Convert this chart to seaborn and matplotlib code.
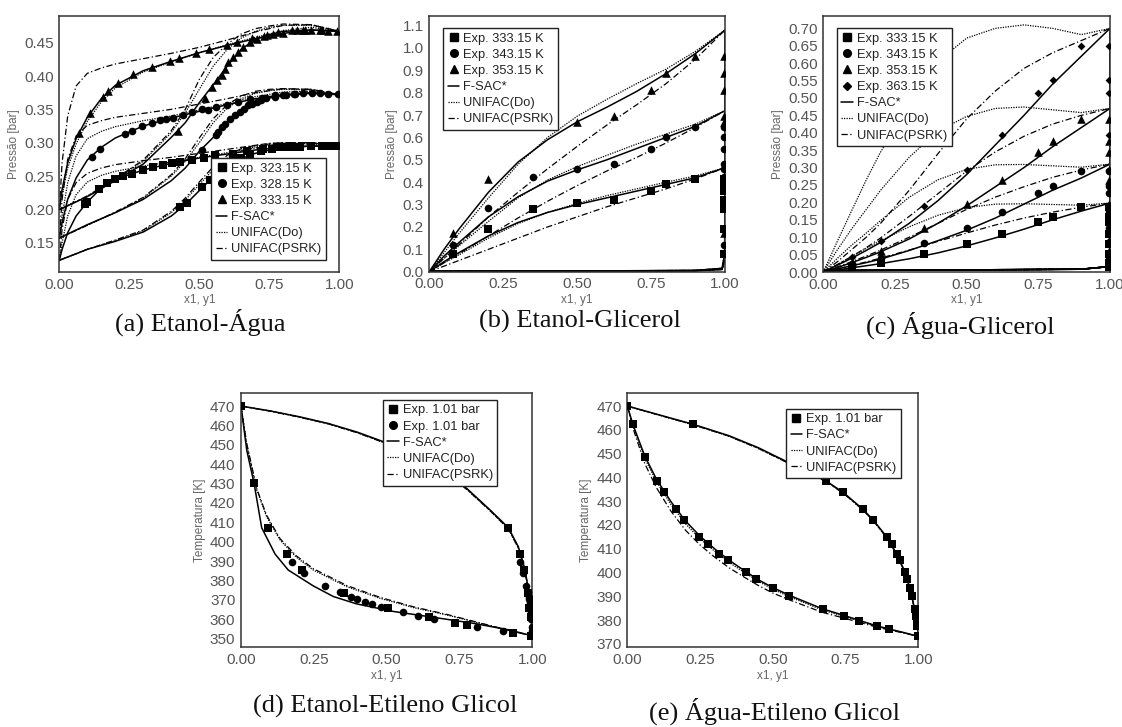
import matplotlib
matplotlib.use('Agg')
import matplotlib.pyplot as plt
from matplotlib.lines import Line2D
from matplotlib.ticker import FormatStrFormatter
import seaborn as sns

# ---------------- (a) Etanol-Agua : P [bar] vs x1, y1 ----------------
A_GRID_BUB = [0, 0.01, 0.03, 0.06, 0.1, 0.15, 0.2, 0.3, 0.4, 0.5, 0.6, 0.7, 0.8, 0.9, 1.0]
A_GRID_DEW = [0, 0.1, 0.2, 0.3, 0.4, 0.45, 0.5, 0.55, 0.6, 0.65, 0.7, 0.75, 0.8, 0.9, 1.0]

a_fsac_bub_323 = [0.1235, 0.14, 0.165, 0.19, 0.211, 0.232, 0.245, 0.259, 0.269, 0.277, 0.283, 0.289, 0.293, 0.295, 0.2945]
a_do_bub_323 = [0.1235, 0.15, 0.19, 0.222, 0.241, 0.251, 0.257, 0.265, 0.271, 0.278, 0.285, 0.292, 0.297, 0.298, 0.2945]
a_psrk_bub_323 = [0.1235, 0.17, 0.215, 0.24, 0.254, 0.262, 0.267, 0.273, 0.278, 0.284, 0.29, 0.296, 0.3, 0.3, 0.2945]
a_fsac_dew_323 = [0.1235, 0.14, 0.152, 0.166, 0.19, 0.207, 0.228, 0.249, 0.265, 0.276, 0.284, 0.289, 0.292, 0.295, 0.2945]
a_do_dew_323 = [0.1235, 0.14, 0.153, 0.168, 0.195, 0.214, 0.237, 0.26, 0.277, 0.288, 0.294, 0.297, 0.299, 0.299, 0.2945]
a_psrk_dew_323 = [0.1235, 0.14, 0.154, 0.169, 0.197, 0.217, 0.241, 0.264, 0.281, 0.291, 0.296, 0.299, 0.3, 0.3, 0.2945]

a_fsac_bub_328 = [0.157, 0.18, 0.215, 0.247, 0.274, 0.293, 0.307, 0.325, 0.337, 0.347, 0.357, 0.366, 0.372, 0.375, 0.372]
a_do_bub_328 = [0.157, 0.19, 0.24, 0.28, 0.306, 0.317, 0.324, 0.333, 0.34, 0.349, 0.359, 0.369, 0.376, 0.377, 0.372]
a_psrk_bub_328 = [0.157, 0.215, 0.275, 0.31, 0.326, 0.333, 0.338, 0.344, 0.35, 0.358, 0.366, 0.375, 0.381, 0.38, 0.372]
a_fsac_dew_328 = [0.157, 0.177, 0.195, 0.215, 0.243, 0.262, 0.287, 0.308, 0.332, 0.348, 0.36, 0.367, 0.371, 0.374, 0.372]
a_do_dew_328 = [0.157, 0.176, 0.195, 0.217, 0.25, 0.272, 0.3, 0.33, 0.352, 0.366, 0.374, 0.378, 0.38, 0.379, 0.372]
a_psrk_dew_328 = [0.157, 0.176, 0.196, 0.218, 0.252, 0.276, 0.307, 0.336, 0.357, 0.37, 0.377, 0.38, 0.381, 0.38, 0.372]

a_fsac_bub_333 = [0.1995, 0.23, 0.27, 0.306, 0.338, 0.366, 0.386, 0.408, 0.422, 0.435, 0.446, 0.456, 0.464, 0.469, 0.467]
a_do_bub_333 = [0.1995, 0.222, 0.262, 0.298, 0.332, 0.361, 0.382, 0.406, 0.421, 0.435, 0.447, 0.458, 0.468, 0.473, 0.467]
a_psrk_bub_333 = [0.1995, 0.27, 0.34, 0.385, 0.404, 0.412, 0.418, 0.426, 0.434, 0.443, 0.454, 0.466, 0.476, 0.477, 0.467]
a_fsac_dew_333 = [0.1995, 0.219, 0.243, 0.268, 0.308, 0.33, 0.36, 0.387, 0.415, 0.44, 0.455, 0.462, 0.467, 0.469, 0.467]
a_do_dew_333 = [0.1995, 0.22, 0.245, 0.272, 0.315, 0.345, 0.38, 0.415, 0.44, 0.457, 0.467, 0.473, 0.476, 0.476, 0.467]
a_psrk_dew_333 = [0.1995, 0.22, 0.246, 0.274, 0.318, 0.35, 0.395, 0.428, 0.448, 0.463, 0.471, 0.475, 0.478, 0.477, 0.467]

a_exp_bub_323_x = [0.092, 0.1, 0.142, 0.169, 0.199, 0.229, 0.258, 0.3, 0.336, 0.371, 0.401, 0.431, 0.473,
                   0.517, 0.556, 0.621, 0.669, 0.729, 0.776, 0.82, 0.86, 0.9, 0.94, 0.97, 1.0]
a_exp_bub_323_p = [0.2085, 0.211, 0.231, 0.2395, 0.246, 0.2495, 0.2535, 0.2585, 0.2635, 0.267, 0.2695, 0.271, 0.2745,
                   0.2775, 0.281, 0.2835, 0.287, 0.291, 0.2935, 0.2935, 0.294, 0.295, 0.295, 0.295, 0.2945]
a_exp_dew_323_x = [0.431, 0.455, 0.508, 0.538, 0.568, 0.592, 0.62, 0.65, 0.68, 0.72, 0.76, 0.8, 0.85, 0.9, 0.95]
a_exp_dew_323_p = [0.2035, 0.2095, 0.2335, 0.2435, 0.2535, 0.2635, 0.27, 0.277, 0.283, 0.288, 0.291, 0.293, 0.294, 0.295, 0.295]
a_exp_bub_328_x = [0.116, 0.145, 0.235, 0.259, 0.294, 0.33, 0.36, 0.38, 0.407, 0.443, 0.473, 0.508, 0.532,
                   0.56, 0.6, 0.64, 0.68, 0.723, 0.77, 0.81, 0.842, 0.87, 0.901, 0.93, 0.961, 0.996]
a_exp_bub_328_p = [0.2785, 0.291, 0.3135, 0.3175, 0.325, 0.33, 0.3335, 0.335, 0.3375, 0.342, 0.346, 0.35, 0.3495,
                   0.353, 0.357, 0.361, 0.365, 0.3675, 0.371, 0.372, 0.3735, 0.374, 0.374, 0.374, 0.3735, 0.3725]
a_exp_dew_328_x = [0.508, 0.56, 0.568, 0.58, 0.592, 0.61, 0.627, 0.645, 0.66, 0.675, 0.69, 0.705, 0.72, 0.74, 0.77, 0.8, 0.84]
a_exp_dew_328_p = [0.289, 0.311, 0.316, 0.323, 0.3285, 0.336, 0.341, 0.346, 0.351, 0.356, 0.358, 0.361, 0.364, 0.367, 0.369, 0.371, 0.373]
a_exp_bub_333_x = [0.07, 0.11, 0.155, 0.175, 0.211, 0.264, 0.33, 0.395, 0.427, 0.49, 0.536, 0.6, 0.636, 0.69,
                   0.73, 0.764, 0.8, 0.848, 0.87, 0.9, 0.93, 0.96]
a_exp_bub_333_p = [0.315, 0.3445, 0.3685, 0.3775, 0.39, 0.4025, 0.4135, 0.422, 0.4275, 0.435, 0.441, 0.447, 0.451, 0.457,
                   0.46, 0.4625, 0.465, 0.4685, 0.469, 0.4695, 0.469, 0.468]
a_exp_dew_333_x = [0.425, 0.52, 0.544, 0.562, 0.58, 0.592, 0.604, 0.621, 0.639, 0.657, 0.681, 0.705, 0.741, 0.782,
                   0.83, 0.878, 0.937, 0.991]
a_exp_dew_333_p = [0.317, 0.367, 0.3835, 0.3935, 0.401, 0.411, 0.421, 0.4285, 0.436, 0.4435, 0.451, 0.456, 0.461, 0.466,
                   0.4685, 0.4695, 0.4685, 0.4675]
A_LABELS = ['Exp. 323.15 K', 'Exp. 328.15 K', 'Exp. 333.15 K']

# ---------------- (b) Etanol-Glicerol ----------------
B_GRID = [0, 0.05, 0.1, 0.2, 0.3, 0.4, 0.5, 0.6, 0.7, 0.8, 0.9, 1.0]
b_fsac_333 = [0, 0.045, 0.085, 0.16, 0.22, 0.265, 0.3, 0.33, 0.36, 0.39, 0.42, 0.465]
b_do_333 = [0, 0.04, 0.075, 0.15, 0.215, 0.265, 0.305, 0.34, 0.37, 0.4, 0.428, 0.465]
b_psrk_333 = [0, 0.025, 0.05, 0.1, 0.15, 0.2, 0.245, 0.29, 0.33, 0.37, 0.415, 0.465]
b_fsac_343 = [0, 0.07, 0.13, 0.245, 0.335, 0.405, 0.455, 0.5, 0.55, 0.6, 0.65, 0.72]
b_do_343 = [0, 0.06, 0.115, 0.225, 0.33, 0.41, 0.47, 0.52, 0.57, 0.615, 0.66, 0.72]
b_psrk_343 = [0, 0.04, 0.08, 0.16, 0.24, 0.315, 0.385, 0.45, 0.51, 0.575, 0.645, 0.72]
b_fsac_353 = [0, 0.1, 0.19, 0.355, 0.49, 0.59, 0.67, 0.735, 0.805, 0.885, 0.975, 1.08]
b_do_353 = [0, 0.085, 0.17, 0.33, 0.48, 0.6, 0.695, 0.77, 0.84, 0.905, 0.985, 1.08]
b_psrk_353 = [0, 0.06, 0.12, 0.245, 0.355, 0.46, 0.56, 0.655, 0.745, 0.84, 0.95, 1.08]
B_DEW_X = [0, 0.5, 0.9, 0.99, 0.999, 1.0]
b_dew_333 = [0.002, 0.003, 0.004, 0.01, 0.05, 0.465]
b_dew_343 = [0.002, 0.003, 0.005, 0.012, 0.06, 0.72]
b_dew_353 = [0.002, 0.003, 0.006, 0.015, 0.08, 1.08]
B_EXP_X = [0.08, 0.2, 0.35, 0.5, 0.625, 0.75, 0.8, 0.9]
B_EXP_DEW_X = [0.998, 0.998, 0.998, 0.998, 0.998, 0.998, 0.998, 0.998]
b_exp_333 = [0.08, 0.19, 0.28, 0.305, 0.32, 0.36, 0.39, 0.415]
b_exp_343 = [0.12, 0.285, 0.425, 0.46, 0.48, 0.55, 0.6, 0.645]
b_exp_353 = [0.175, 0.415, None, 0.67, 0.695, 0.81, 0.89, 0.965]
B_LABELS = ['Exp. 333.15 K', 'Exp. 343.15 K', 'Exp. 353.15 K']

# ---------------- (c) Agua-Glicerol ----------------
C_GRID = [0, 0.05, 0.1, 0.15, 0.2, 0.3, 0.4, 0.5, 0.6, 0.7, 0.8, 0.9, 1.0]
c_fsac_333 = [0, 0.006, 0.012, 0.018, 0.024, 0.038, 0.055, 0.075, 0.098, 0.123, 0.15, 0.175, 0.198]
c_fsac_343 = [0, 0.009, 0.018, 0.027, 0.037, 0.062, 0.09, 0.12, 0.155, 0.195, 0.235, 0.27, 0.31]
c_fsac_353 = [0, 0.013, 0.027, 0.042, 0.058, 0.095, 0.14, 0.19, 0.245, 0.3, 0.36, 0.415, 0.47]
c_fsac_363 = [0, 0.02, 0.04, 0.062, 0.085, 0.14, 0.205, 0.28, 0.365, 0.45, 0.54, 0.62, 0.70]
c_do_333 = [0, 0.022, 0.045, 0.068, 0.09, 0.13, 0.163, 0.185, 0.195, 0.196, 0.194, 0.192, 0.198]
c_do_343 = [0, 0.04, 0.078, 0.112, 0.148, 0.215, 0.265, 0.295, 0.308, 0.309, 0.305, 0.301, 0.31]
c_do_353 = [0, 0.065, 0.125, 0.18, 0.235, 0.33, 0.405, 0.447, 0.47, 0.474, 0.466, 0.458, 0.47]
c_do_363 = [0, 0.09, 0.178, 0.265, 0.345, 0.48, 0.605, 0.672, 0.70, 0.71, 0.70, 0.682, 0.70]
c_psrk_333 = [0, 0.009, 0.019, 0.029, 0.04, 0.063, 0.088, 0.112, 0.135, 0.155, 0.172, 0.186, 0.198]
c_psrk_343 = [0, 0.015, 0.03, 0.046, 0.063, 0.1, 0.14, 0.18, 0.215, 0.245, 0.272, 0.293, 0.31]
c_psrk_353 = [0, 0.022, 0.045, 0.07, 0.098, 0.16, 0.225, 0.29, 0.345, 0.39, 0.425, 0.45, 0.47]
c_psrk_363 = [0, 0.03, 0.065, 0.1, 0.14, 0.235, 0.34, 0.44, 0.52, 0.585, 0.63, 0.665, 0.70]
C_DEW_X = [0, 0.5, 0.9, 0.99, 0.999, 1.0]
c_dew_333 = [0.004, 0.006, 0.008, 0.015, 0.05, 0.198]
c_dew_343 = [0.004, 0.006, 0.008, 0.015, 0.05, 0.31]
c_dew_353 = [0.004, 0.006, 0.008, 0.015, 0.05, 0.47]
c_dew_363 = [0.004, 0.006, 0.008, 0.015, 0.05, 0.70]
C_EXP_X = [0.1, 0.2, 0.35, 0.5, 0.625, 0.75, 0.8, 0.9]
C_EXP_DEW_X = [0.998, 0.998, 0.998, 0.998, 0.998, 0.998, 0.998, 0.998]
c_exp_333 = [0.013, 0.027, 0.052, 0.08, 0.11, 0.145, 0.158, 0.188]
c_exp_343 = [0.022, 0.04, 0.082, 0.127, 0.173, 0.228, 0.248, 0.29]
c_exp_353 = [0.03, 0.06, 0.127, 0.195, 0.265, 0.345, 0.375, 0.44]
c_exp_363 = [0.042, 0.09, 0.19, 0.292, 0.393, 0.513, 0.552, 0.648]
C_LABELS = ['Exp. 333.15 K', 'Exp. 343.15 K', 'Exp. 353.15 K', 'Exp. 363.15 K']

# ---------------- (d) Etanol-Etileno Glicol : T [K] ----------------
d_fsac_bub_x = [0, 0.02, 0.045, 0.071, 0.117, 0.162, 0.248, 0.317, 0.397, 0.523, 0.66, 0.797, 0.923, 1.0]
d_fsac_bub_t = [470, 447, 430, 407.2, 393.6, 385.4, 377.2, 371.7, 367.9, 364, 361, 357.9, 354.4, 351.4]
d_do_bub_x = [0, 0.019, 0.054, 0.088, 0.134, 0.19, 0.248, 0.363, 0.477, 0.592, 0.706, 0.82, 0.935, 1.0]
d_do_bub_t = [470, 450.7, 426.7, 412.9, 400.9, 392, 385.4, 376.8, 370.8, 366, 362.2, 357.9, 353.6, 351.4]
d_psrk_bub_t = [470, 451.2, 427.4, 413.6, 401.6, 392.7, 386.1, 377.4, 371.3, 366.4, 362.5, 358.1, 353.7, 351.4]
d_fsac_dew_x = [0, 0.1, 0.2, 0.3, 0.4, 0.5, 0.6, 0.7, 0.775, 0.855, 0.918, 0.952, 0.969, 0.981, 0.99, 0.995, 1.0]
d_fsac_dew_t = [470, 467.5, 464.5, 461, 456.5, 451, 444.5, 436.5, 427.5, 416.4, 407.2, 397.4, 388.9, 380.3, 371.7, 362, 351.4]
d_do_dew_t = [470, 467.4, 464.3, 460.8, 456.2, 450.6, 444, 436, 427, 416, 406.6, 396.8, 388.3, 379.8, 371.3, 361.7, 351.4]
d_exp1_bub_x = [0.0, 0.045, 0.094, 0.157, 0.208, 0.355, 0.506, 0.646, 0.735, 0.777, 0.935, 0.994]
d_exp1_bub_t = [470, 430.1, 407.2, 393.6, 385.4, 373.4, 366, 361, 358, 357.2, 353.1, 351.4]
d_exp1_dew_x = [0.918, 0.958, 0.971, 0.986, 0.99, 0.994]
d_exp1_dew_t = [407.2, 393.6, 385.4, 373.4, 366, 361]
d_exp2_bub_x = [0.176, 0.217, 0.29, 0.34, 0.376, 0.397, 0.427, 0.451, 0.481, 0.557, 0.609, 0.664, 0.809, 0.898]
d_exp2_bub_t = [389.7, 384, 377.2, 373.8, 371.7, 370.3, 369.1, 367.9, 366.5, 363.6, 361.9, 360, 356.2, 353.8]
d_exp2_dew_x = [0.958, 0.969, 0.98, 0.985, 0.988, 0.99, 0.992, 0.993, 0.994, 0.995, 0.996, 0.997, 0.998, 0.999]
d_exp2_dew_t = [389.7, 384, 377.2, 373.8, 371.7, 370.3, 369.1, 367.9, 366.5, 363.6, 361.9, 360, 356.2, 353.8]
D_LABELS = ['Exp. 1.01 bar', 'Exp. 1.01 bar']

# ---------------- (e) Agua-Etileno Glicol : T [K] ----------------
E_BUB_X = [0, 0.02, 0.06, 0.1, 0.15, 0.2, 0.25, 0.3, 0.35, 0.4, 0.45, 0.5, 0.56, 0.67, 0.75, 0.8, 0.86, 0.9, 0.95, 1.0]
e_fsac_bub = [470, 462, 449, 439.3, 429.8, 421.7, 415.3, 410, 405.2, 401, 397, 393.7, 390.3, 384.8, 381.8, 379.8, 377.5, 376.3, 374.8, 373.2]
e_do_bub = [470, 461.5, 448, 438.3, 428.6, 420.5, 414.2, 409, 404.3, 400.2, 396.4, 393, 389.7, 384.3, 381.4, 379.5, 377.3, 376.1, 374.7, 373.2]
e_psrk_bub = [470, 460.5, 445.8, 435.7, 425.8, 417.8, 411.6, 406.5, 402, 398.2, 394.6, 391.4, 388.4, 383.3, 380.7, 379, 377, 375.9, 374.6, 373.2]
E_DEW_X = [0, 0.1, 0.227, 0.35, 0.45, 0.55, 0.65, 0.682, 0.742, 0.809, 0.845, 0.891, 0.926, 0.954, 0.971, 0.985, 0.994, 1.0]
e_fsac_dew = [470, 466.6, 462.3, 457.5, 452.5, 446.5, 440.5, 438.6, 433.7, 426.7, 422.1, 415.1, 407.8, 400.3, 393.6, 386, 380, 373.2]
e_do_dew = [470, 466.5, 462.1, 457.3, 452.2, 446.2, 440.2, 438.3, 433.4, 426.4, 421.8, 414.8, 407.5, 400, 393.3, 385.8, 379.8, 373.2]
e_exp_bub_x = [0, 0.018, 0.062, 0.103, 0.127, 0.166, 0.196, 0.247, 0.278, 0.316, 0.345, 0.408, 0.443, 0.5,
               0.557, 0.674, 0.745, 0.796, 0.859, 0.899]
e_exp_bub_t = [470, 462.3, 448.7, 438.6, 433.7, 426.7, 422.1, 415.1, 412, 407.8, 405.3, 400.3, 397.3, 393.6,
               390.3, 384.7, 381.8, 379.7, 377.6, 376.3]
e_exp_dew_x = [0.227, 0.682, 0.742, 0.809, 0.845, 0.891, 0.908, 0.926, 0.937, 0.954, 0.962, 0.971, 0.979,
               0.989, 0.992, 0.994, 0.996, 0.998]
e_exp_dew_t = [462.3, 438.6, 433.7, 426.7, 422.1, 415.1, 412, 407.8, 405.3, 400.3, 397.3, 393.6, 390.3,
               384.7, 381.8, 379.7, 377.6, 373.5]
E_LABELS = ['Exp. 1.01 bar']

X_TICKS = [0.0, 0.25, 0.5, 0.75, 1.0]
A_YTICKS = [0.15, 0.20, 0.25, 0.30, 0.35, 0.40, 0.45]
B_YTICKS = [0.0, 0.1, 0.2, 0.3, 0.4, 0.5, 0.6, 0.7, 0.8, 0.9, 1.0, 1.1]
C_YTICKS = [0.0, 0.05, 0.1, 0.15, 0.2, 0.25, 0.3, 0.35, 0.4, 0.45, 0.5, 0.55, 0.6, 0.65, 0.7]
D_YTICKS = [350, 360, 370, 380, 390, 400, 410, 420, 430, 440, 450, 460, 470]
E_YTICKS = [370, 380, 390, 400, 410, 420, 430, 440, 450, 460, 470]

CAPTIONS = ['(a) Etanol-Água', '(b) Etanol-Glicerol', '(c) Água-Glicerol',
            '(d) Etanol-Etileno Glicol', '(e) Água-Etileno Glicol']

sns.set_style('white')
plt.rcParams['font.family'] = ['Liberation Sans', 'DejaVu Sans']

W, H = 1122, 727
fig = plt.figure(figsize=(W / 100, H / 100), dpi=100)

STYLES = {
    'fsac': dict(linestyle='-', linewidth=1.1),
    'do': dict(linestyle=(0, (1, 1)), linewidth=0.9),
    'psrk': dict(linestyle=(0, (5, 2, 1, 2)), linewidth=0.9),
}
MARKERS = {'s': 30, 'o': 30, '^': 38, 'D': 16}
GREY = '#555555'


def add_axes(left, top, right, bottom):
    ax = fig.add_axes([left / W, 1 - bottom / H, (right - left) / W, (bottom - top) / H])
    for sp in ax.spines.values():
        sp.set_color('#333333')
        sp.set_linewidth(1.1)
    ax.tick_params(direction='out', length=2.5, width=0.8, color=GREY, labelcolor=GREY,
                   labelsize=11, pad=1.5)
    return ax


def curve(ax, x, y, kind):
    sns.lineplot(x=x, y=y, ax=ax, color='black', sort=False, estimator=None, **STYLES[kind])


def points(ax, x, y, marker):
    pairs = [(a, b) for a, b in zip(x, y) if b is not None]
    sns.scatterplot(x=[p[0] for p in pairs], y=[p[1] for p in pairs], ax=ax, marker=marker,
                    s=MARKERS[marker], color='black', edgecolor='black', linewidth=0, zorder=5)


def finish(ax, ylim, yticks, yfmt, ylabel, labels, markers, loc, anchor):
    ax.set_xlim(0, 1)
    ax.set_ylim(*ylim)
    ax.set_xticks(X_TICKS)
    ax.set_yticks(yticks)
    ax.xaxis.set_major_formatter(FormatStrFormatter('%.2f'))
    ax.yaxis.set_major_formatter(FormatStrFormatter(yfmt))
    ax.set_xlabel('x1, y1', fontsize=8.5, color='#666666', labelpad=2)
    ax.set_ylabel(ylabel, fontsize=8.5, color='#666666', labelpad=3)
    handles = [Line2D([], [], color='black', marker=m, linestyle='none',
                      markersize=(4.5 if m == 'D' else 5.5)) for m in markers]
    handles += [Line2D([], [], color='black', **STYLES[k]) for k in ('fsac', 'do', 'psrk')]
    leg = ax.legend(handles, labels + ['F-SAC*', 'UNIFAC(Do)', 'UNIFAC(PSRK)'], loc=loc,
                    bbox_to_anchor=anchor, fontsize=9.3, frameon=True, fancybox=False,
                    edgecolor='#222222', handlelength=0.9, handletextpad=0.3, borderpad=0.35,
                    labelspacing=0.32, borderaxespad=0)
    leg.get_frame().set_linewidth(1.0)
    leg.get_frame().set_alpha(1)
    leg.set_zorder(10)
    for t in leg.get_texts():
        t.set_color('#222222')


# ---- (a) ----
ax = add_axes(59.3, 16, 339.3, 272)
for kind, curves in (('fsac', (a_fsac_bub_323, a_fsac_bub_328, a_fsac_bub_333)),
                     ('do', (a_do_bub_323, a_do_bub_328, a_do_bub_333)),
                     ('psrk', (a_psrk_bub_323, a_psrk_bub_328, a_psrk_bub_333))):
    for c in curves:
        curve(ax, A_GRID_BUB, c, kind)
for kind, curves in (('fsac', (a_fsac_dew_323, a_fsac_dew_328, a_fsac_dew_333)),
                     ('do', (a_do_dew_323, a_do_dew_328, a_do_dew_333)),
                     ('psrk', (a_psrk_dew_323, a_psrk_dew_328, a_psrk_dew_333))):
    for c in curves:
        curve(ax, A_GRID_DEW, c, kind)
points(ax, a_exp_bub_323_x, a_exp_bub_323_p, 's')
points(ax, a_exp_dew_323_x, a_exp_dew_323_p, 's')
points(ax, a_exp_bub_328_x, a_exp_bub_328_p, 'o')
points(ax, a_exp_dew_328_x, a_exp_dew_328_p, 'o')
points(ax, a_exp_bub_333_x, a_exp_bub_333_p, '^')
points(ax, a_exp_dew_333_x, a_exp_dew_333_p, '^')
finish(ax, (0.106, 0.49), A_YTICKS, '%.2f', 'Pressão [bar]', A_LABELS, ['s', 'o', '^'],
       'lower right', (0.953, 0.047))

# ---- (b) ----
ax = add_axes(429.3, 16, 725, 271.7)
for kind, curves in (('fsac', (b_fsac_333, b_fsac_343, b_fsac_353)),
                     ('do', (b_do_333, b_do_343, b_do_353)),
                     ('psrk', (b_psrk_333, b_psrk_343, b_psrk_353))):
    for c in curves:
        curve(ax, B_GRID, c, kind)
for d in (b_dew_333, b_dew_343, b_dew_353):
    for kind in ('fsac', 'do', 'psrk'):
        curve(ax, B_DEW_X, d, kind)
for vals, m in ((b_exp_333, 's'), (b_exp_343, 'o'), (b_exp_353, '^')):
    points(ax, B_EXP_X, vals, m)
    points(ax, B_EXP_DEW_X, vals, m)
finish(ax, (0, 1.143), B_YTICKS, '%.1f', 'Pressão [bar]', B_LABELS, ['s', 'o', '^'],
       'upper left', (0.047, 0.953))

# ---- (c) ----
ax = add_axes(823.3, 16, 1110, 272)
for kind, curves in (('fsac', (c_fsac_333, c_fsac_343, c_fsac_353, c_fsac_363)),
                     ('do', (c_do_333, c_do_343, c_do_353, c_do_363)),
                     ('psrk', (c_psrk_333, c_psrk_343, c_psrk_353, c_psrk_363))):
    for c in curves:
        curve(ax, C_GRID, c, kind)
for d in (c_dew_333, c_dew_343, c_dew_353, c_dew_363):
    for kind in ('fsac', 'do', 'psrk'):
        curve(ax, C_DEW_X, d, kind)
for vals, m in ((c_exp_333, 's'), (c_exp_343, 'o'), (c_exp_353, '^'), (c_exp_363, 'D')):
    points(ax, C_EXP_X, vals, m)
    points(ax, C_EXP_DEW_X, vals, m)
finish(ax, (0, 0.7355), C_YTICKS, '%.2f', 'Pressão [bar]', C_LABELS, ['s', 'o', '^', 'D'],
       'upper left', (0.047, 0.953))

# ---- (d) ----
ax = add_axes(241, 392.7, 532.3, 647.3)
curve(ax, d_fsac_bub_x, d_fsac_bub_t, 'fsac')
curve(ax, d_do_bub_x, d_do_bub_t, 'do')
curve(ax, d_do_bub_x, d_psrk_bub_t, 'psrk')
curve(ax, d_fsac_dew_x, d_fsac_dew_t, 'fsac')
curve(ax, d_fsac_dew_x, d_do_dew_t, 'do')
curve(ax, d_fsac_dew_x, d_do_dew_t, 'psrk')
points(ax, d_exp1_bub_x, d_exp1_bub_t, 's')
points(ax, d_exp1_dew_x, d_exp1_dew_t, 's')
points(ax, d_exp2_bub_x, d_exp2_bub_t, 'o')
points(ax, d_exp2_dew_x, d_exp2_dew_t, 'o')
finish(ax, (345.5, 476.9), D_YTICKS, '%d', 'Temperatura [K]', D_LABELS, ['s', 'o'],
       'upper right', (0.88, 0.972))

# ---- (e) ----
ax = add_axes(627.3, 392.7, 918.3, 647.3)
curve(ax, E_BUB_X, e_fsac_bub, 'fsac')
curve(ax, E_BUB_X, e_do_bub, 'do')
curve(ax, E_BUB_X, e_psrk_bub, 'psrk')
curve(ax, E_DEW_X, e_fsac_dew, 'fsac')
curve(ax, E_DEW_X, e_do_dew, 'do')
curve(ax, E_DEW_X, e_do_dew, 'psrk')
points(ax, e_exp_bub_x, e_exp_bub_t, 's')
points(ax, e_exp_dew_x, e_exp_dew_t, 's')
finish(ax, (368.6, 475.6), E_YTICKS, '%d', 'Temperatura [K]', E_LABELS, ['s'],
       'upper right', (0.94, 0.937))

# captions under each panel
for text, (cx, cy) in zip(CAPTIONS, [(200, 322), (580, 321), (960, 325), (385, 706), (775, 711)]):
    fig.text(cx / W, 1 - cy / H, text, ha='center', va='center', fontsize=19,
             family=['Liberation Serif', 'DejaVu Serif'], color='#111111')

fig.savefig('out.png', dpi=100)
